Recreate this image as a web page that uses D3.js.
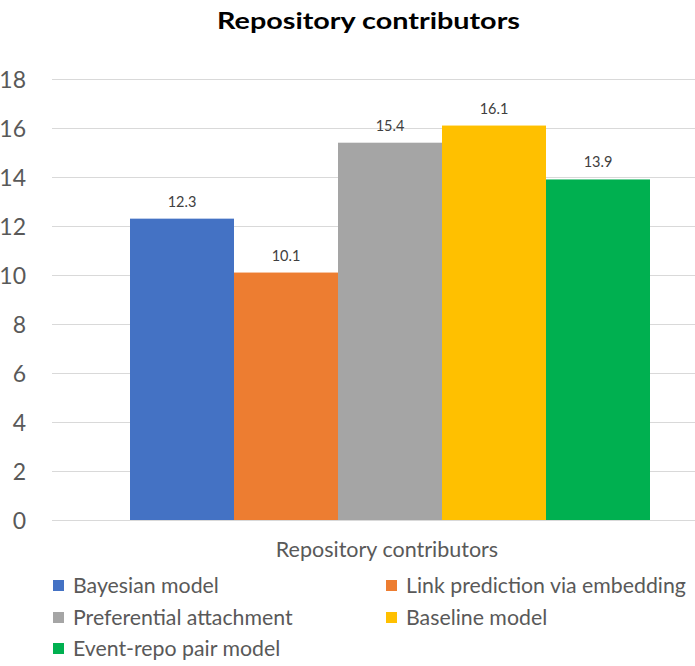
<!DOCTYPE html>
<html><head><meta charset="utf-8">
<script src="https://cdn.jsdelivr.net/npm/d3@7"></script>
<style>body{margin:0;background:#fff}svg{display:block}</style>
</head><body><svg id="c" width="695" height="666"></svg>
<script>
const category = "Repository contributors";
const series = ["Bayesian model","Link prediction via embedding","Preferential attachment","Baseline model","Event-repo pair model"];
const values = [12.3, 10.1, 15.4, 16.1, 13.9];
const colors = ["#4472C4","#ED7D31","#A5A5A5","#FFC000","#00B050"];
const yTicks = [0,2,4,6,8,10,12,14,16,18];

const svg = d3.select("#c");
const font = "Lato, 'Open Sans', sans-serif";
const y = d3.scaleLinear().domain([0,18]).range([520,79]);
const x = d3.scaleBand().domain(series).range([130,650]).padding(0);

svg.append("text").attr("x",368.5).attr("y",29).attr("text-anchor","middle")
  .attr("font-family",font).attr("font-weight","bold").attr("font-size",23).attr("fill","#000")
  .attr("textLength",303).attr("lengthAdjust","spacingAndGlyphs").text(category);

const yAxis = svg.append("g").attr("transform","translate(52,0)")
  .call(d3.axisLeft(y).tickValues(yTicks).tickSize(-643).tickPadding(26));
yAxis.select(".domain").remove();
yAxis.selectAll(".tick line").attr("stroke","#D9D9D9").attr("stroke-width",1);
yAxis.selectAll(".tick text").attr("font-family",font).attr("font-size",23).attr("fill","#595959").attr("dy","0.35em");

svg.selectAll("rect.bar").data(values).join("rect").attr("class","bar")
  .attr("x",(d,i)=>x(series[i])).attr("width",x.bandwidth())
  .attr("y",d=>y(d)).attr("height",d=>y(0)-y(d)).attr("fill",(d,i)=>colors[i]);

svg.selectAll("text.lbl").data(values).join("text").attr("class","lbl")
  .attr("x",(d,i)=>x(series[i])+x.bandwidth()/2).attr("y",d=>y(d)-12)
  .attr("text-anchor","middle").attr("font-family",font).attr("font-size",14.5).attr("fill","#404040")
  .text(d=>d.toFixed(1));

svg.append("text").attr("x",387).attr("y",557).attr("text-anchor","middle")
  .attr("font-family",font).attr("font-size",21.5).attr("fill","#595959").text(category);

const legPos = [[53,593],[386,593],[53,625],[386,625],[53,656]];
const lg = svg.selectAll("g.leg").data(series).join("g").attr("class","leg")
  .attr("transform",(d,i)=>`translate(${legPos[i][0]},${legPos[i][1]})`);
lg.append("rect").attr("x",0).attr("y",-13).attr("width",11).attr("height",11).attr("fill",(d,i)=>colors[i]);
lg.append("text").attr("x",20).attr("y",0).attr("font-family",font).attr("font-size",21.3).attr("fill","#595959").text(d=>d);
</script></body></html>
